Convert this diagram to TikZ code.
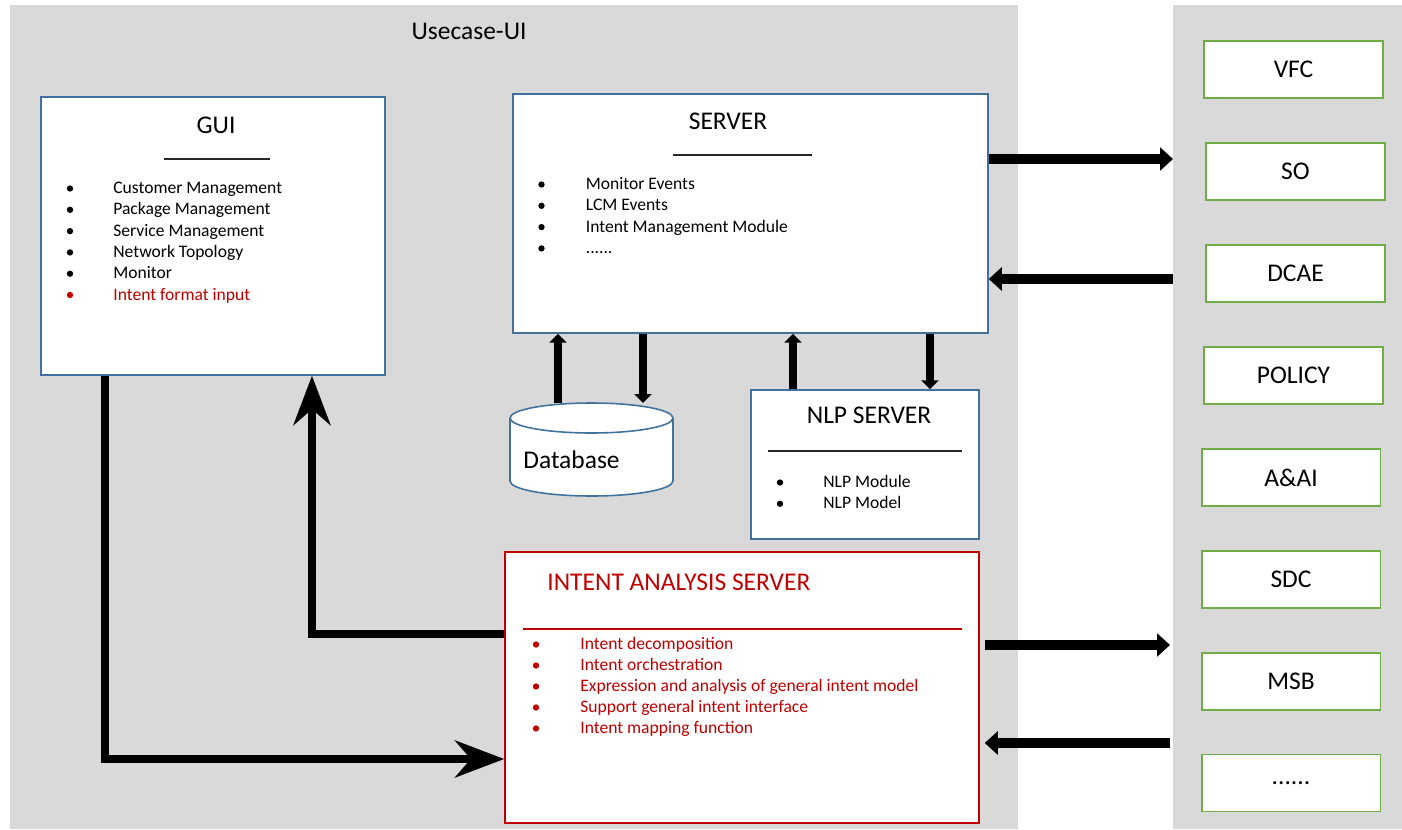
\documentclass[tikz,border=0pt]{standalone}
\usepackage{fontspec}
\setmainfont{Carlito}
\usetikzlibrary{arrows.meta,positioning,calc}
\definecolor{panelgray}{HTML}{D9D9D9}
\definecolor{boxblue}{HTML}{41719C}
\definecolor{boxgreen}{HTML}{70AD47}
\definecolor{intentred}{HTML}{C00000}
\definecolor{rulegray}{HTML}{262626}
\newcommand{\sixdots}{......}
\tikzset{
  panel/.style={fill=panelgray, draw=none, inner sep=0pt, anchor=north west},
  bluebox/.style={draw=boxblue, line width=0.9pt, fill=white},
  redbox/.style={draw=intentred, line width=0.9pt, fill=white},
  greenbox/.style={draw=boxgreen, line width=1.1pt, fill=white, minimum width=3.58cm, minimum height=1.14cm, font=\fontsize{14.5}{17}\selectfont},
  title/.style={font=\fontsize{14.5}{17}\selectfont, inner sep=0pt},
  dot/.style={circle, fill, inner sep=0pt, minimum size=3.6pt},
  itemtext/.style={anchor=base west, inner sep=0pt, font=\fontsize{10}{12}\selectfont},
  sepline/.style={draw=rulegray, line width=1pt},
  hbig/.style={line width=6pt, -{Triangle[length=7.4pt, width=13pt]}},
  vsmall/.style={line width=4.5pt, -{Triangle[length=5pt, width=9.6pt]}},
  elbow/.style={line width=4.5pt, -{Stealth[length=28pt, width=21pt, inset=9pt]}},
}
\begin{document}
\begin{tikzpicture}[x=0.02cm, y=-0.02cm]
  \useasboundingbox (0,0) rectangle (1402,829);

  % panels
  \node[panel, minimum width=20.16cm, minimum height=16.48cm] (ui) at (10,5) {};
  \node[panel, minimum width=4.58cm, minimum height=16.48cm] (ext) at (1173,5) {};
  \node[title] (uititle) at (469,31) {Usecase-UI};

  % GUI
  \node[bluebox, minimum width=6.88cm, minimum height=5.56cm] (gui) at (213,236) {};
  \node[title] (guititle) at (216,125) {GUI};
  \draw[sepline] (164,159) -- (270,159);
  \foreach \txt/\col [count=\i from 0] in {Customer Management/black, Package Management/black,
      Service Management/black, Network Topology/black, Monitor/black, Intent format input/intentred} {
    \node[dot, text=\col, fill=\col] (gui-b\i) at (70,188.5+21.3*\i) {};
    \node[itemtext, text=\col] (gui-i\i) at (113,193.5+21.3*\i) {\txt};
  }

  % SERVER
  \node[bluebox, minimum width=9.5cm, minimum height=4.78cm] (server) at (750.5,213.5) {};
  \node[title] (servertitle) at (728,121) {SERVER};
  \draw[sepline] (673,155) -- (812,155);
  \foreach \txt [count=\i from 0] in {Monitor Events, LCM Events, Intent Management Module, \sixdots} {
    \node[dot] (srv-b\i) at (541.5,184.5+21.3*\i) {};
    \node[itemtext] (srv-i\i) at (585.5,189.5+21.3*\i) {\txt};
  }

  % Database
  \draw[bluebox] (510,418) -- (510,481) arc[start angle=180, end angle=360, x radius=1.63cm, y radius=0.3cm] -- (673,418);
  \draw[bluebox] (591.5,418) ellipse[x radius=1.63cm, y radius=0.3cm];
  \coordinate (dbtop) at (591.5,403);
  \node[title, anchor=west] (dblabel) at (523,460) {Database};

  % NLP SERVER
  \node[bluebox, minimum width=4.56cm, minimum height=2.98cm] (nlp) at (865,464.5) {};
  \node[title] (nlptitle) at (869,415) {NLP SERVER};
  \draw[sepline] (768,451) -- (962,451);
  \foreach \txt [count=\i from 0] in {NLP Module, NLP Model} {
    \node[dot] (nlp-b\i) at (780,482.5+21.3*\i) {};
    \node[itemtext] (nlp-i\i) at (823,487.5+21.3*\i) {\txt};
  }

  % INTENT ANALYSIS SERVER
  \node[redbox, minimum width=9.48cm, minimum height=5.42cm] (intent) at (742,687.5) {};
  \node[title, anchor=west, text=intentred] (intenttitle) at (547,582) {INTENT ANALYSIS SERVER};
  \draw[draw=intentred, line width=1.3pt] (523,629) -- (962,629);
  \foreach \txt [count=\i from 0] in {Intent decomposition, Intent orchestration,
      Expression and analysis of general intent model, Support general intent interface, Intent mapping function} {
    \node[dot, fill=intentred] (ia-b\i) at (536,644.5+21*\i) {};
    \node[itemtext, text=intentred] (ia-i\i) at (580,649.5+21*\i) {\txt};
  }

  % external components
  \foreach \name/\lbl/\cx/\cy in {vfc/VFC/1293.5/69.5, so/SO/1295.5/171.5, dcae/DCAE/1295.5/273.5,
      policy/POLICY/1293.5/375.5, aai/A\&AI/1291/477.5, sdc/SDC/1291/579.5, msb/MSB/1291/681.5, more/\sixdots/1291/783} {
    \node[greenbox] (\name) at (\cx,\cy) {\lbl};
  }

  % arrows
  \coordinate (ax1) at (558,0);
  \coordinate (ax2) at (643,0);
  \coordinate (ax3) at (793,0);
  \coordinate (ax4) at (930,0);
  \draw[vsmall] (ax1 |- dbtop) -- (ax1 |- server.south);
  \draw[vsmall] (ax2 |- server.south) -- (ax2 |- dbtop);
  \draw[vsmall] (ax3 |- nlp.north) -- (ax3 |- server.south);
  \draw[vsmall] (ax4 |- server.south) -- (ax4 |- nlp.north);

  \coordinate (srvout) at (1173,159);
  \coordinate (srvin) at (1173,279);
  \coordinate (iaout) at (1170,645);
  \coordinate (iain) at (1170,743);
  \draw[hbig] (server.east |- srvout) -- (srvout);
  \draw[hbig] (srvin) -- (server.east |- srvin);
  \draw[hbig, shorten <=0.1cm] (intent.east |- iaout) -- (iaout);
  \draw[hbig, shorten >=0.1cm] (iain) -- (intent.east |- iain);

  \draw[elbow] ([xshift=-2.16cm]gui.south) |- ([yshift=-1.43cm]intent.west);
  \draw[elbow] ([yshift=1.07cm]intent.west) -| ([xshift=1.98cm]gui.south);
\end{tikzpicture}
\end{document}
